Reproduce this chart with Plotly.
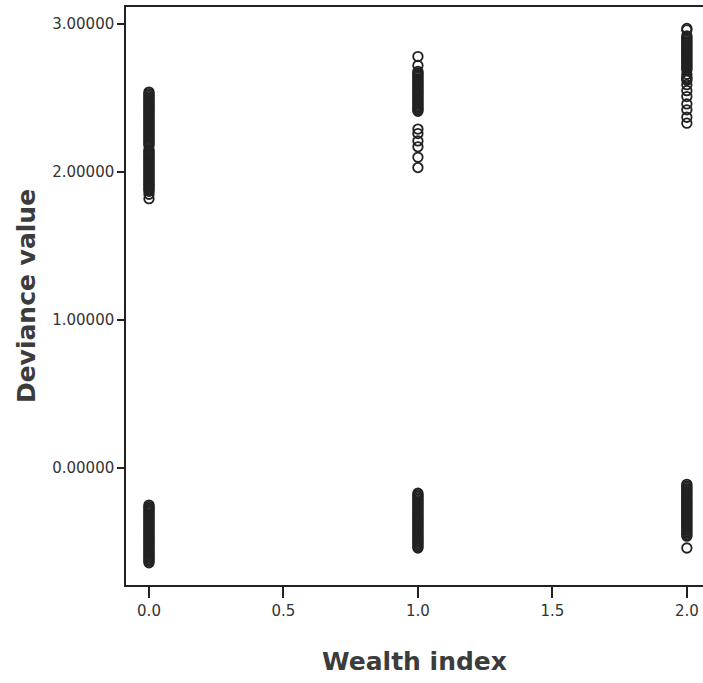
import plotly.graph_objects as go

# Wealth index groups on the x axis
wealth_levels = [0, 1, 2]

# Deviance values per wealth index (upper and lower bands)
dev_w0_upper = [1.82, 1.85, 1.87, 1.88, 1.89, 1.90, 1.91, 1.92, 1.93, 1.94, 1.95, 1.96,
                1.97, 1.98, 1.99, 2.00, 2.01, 2.02, 2.03, 2.04, 2.05, 2.06, 2.07, 2.08,
                2.09, 2.10, 2.11, 2.12, 2.13, 2.14, 2.15, 2.18, 2.19, 2.20, 2.21, 2.22,
                2.23, 2.24, 2.25, 2.26, 2.27, 2.28, 2.29, 2.30, 2.31, 2.32, 2.33, 2.34,
                2.35, 2.36, 2.37, 2.38, 2.39, 2.40, 2.41, 2.42, 2.43, 2.44, 2.45, 2.46,
                2.47, 2.48, 2.49, 2.50, 2.51, 2.52, 2.53, 2.54]
dev_w0_lower = [-0.25, -0.26, -0.27, -0.28, -0.29, -0.30, -0.31, -0.32, -0.33, -0.34,
                -0.35, -0.36, -0.37, -0.38, -0.39, -0.40, -0.41, -0.42, -0.43, -0.44,
                -0.45, -0.46, -0.47, -0.48, -0.49, -0.50, -0.51, -0.52, -0.53, -0.54,
                -0.55, -0.56, -0.57, -0.58, -0.59, -0.60, -0.61, -0.62, -0.63, -0.64]

dev_w1_upper = [2.78, 2.72, 2.68, 2.67, 2.66, 2.65, 2.64, 2.63, 2.62, 2.61, 2.60, 2.59,
                2.58, 2.57, 2.56, 2.55, 2.54, 2.53, 2.52, 2.51, 2.50, 2.49, 2.48, 2.47,
                2.46, 2.45, 2.44, 2.43, 2.42, 2.41, 2.29, 2.26, 2.21, 2.17, 2.10, 2.03]
dev_w1_lower = [-0.17, -0.18, -0.19, -0.20, -0.21, -0.22, -0.23, -0.24, -0.25, -0.26,
                -0.27, -0.28, -0.29, -0.30, -0.31, -0.32, -0.33, -0.34, -0.35, -0.36,
                -0.37, -0.38, -0.39, -0.40, -0.41, -0.42, -0.43, -0.44, -0.45, -0.46,
                -0.47, -0.48, -0.49, -0.50, -0.51, -0.52, -0.53, -0.54]

dev_w2_upper = [2.97, 2.96, 2.92, 2.91, 2.90, 2.89, 2.88, 2.87, 2.86, 2.85, 2.84, 2.83,
                2.82, 2.81, 2.80, 2.79, 2.78, 2.77, 2.76, 2.75, 2.74, 2.73, 2.72, 2.71,
                2.70, 2.69, 2.66, 2.64, 2.63, 2.62, 2.59, 2.55, 2.51, 2.46, 2.42, 2.37,
                2.33]
dev_w2_lower = [-0.11, -0.12, -0.13, -0.14, -0.15, -0.16, -0.17, -0.18, -0.19, -0.20,
                -0.21, -0.22, -0.23, -0.24, -0.25, -0.26, -0.27, -0.28, -0.29, -0.30,
                -0.31, -0.32, -0.33, -0.34, -0.35, -0.36, -0.37, -0.38, -0.39, -0.40,
                -0.41, -0.42, -0.43, -0.44, -0.45, -0.46, -0.54]

x_ticks = [0.0, 0.5, 1.0, 1.5, 2.0]
y_ticks = [0.0, 1.0, 2.0, 3.0]

groups = [
    (wealth_levels[0], dev_w0_upper + dev_w0_lower),
    (wealth_levels[1], dev_w1_upper + dev_w1_lower),
    (wealth_levels[2], dev_w2_upper + dev_w2_lower),
]

xs, ys = [], []
for w, vals in groups:
    xs.extend([w] * len(vals))
    ys.extend(vals)

FONT = "DejaVu Sans, Verdana, sans-serif"
INK = "#222222"

fig = go.Figure(
    go.Scatter(
        x=xs, y=ys, mode="markers",
        marker=dict(symbol="circle-open", size=9.5, color=INK, line=dict(width=1.8, color=INK)),
        showlegend=False,
    )
)

fig.update_layout(
    width=703, height=683,
    margin=dict(l=126, r=0, t=7, b=98),
    paper_bgcolor="white", plot_bgcolor="white",
    font=dict(family=FONT, color="#333333"),
)

fig.update_xaxes(
    range=[-0.0855, 2.06],
    tickvals=x_ticks, tickformat=".1f",
    showline=True, linecolor=INK, linewidth=1.5, mirror=True,
    ticks="outside", ticklen=11, tickwidth=2, tickcolor=INK,
    showgrid=False, zeroline=False,
    tickfont=dict(size=15, color="#333333"),
    title=dict(text="<b>Wealth index</b>", font=dict(size=25, color="#3c3c3c"), standoff=34),
)

fig.update_yaxes(
    range=[-0.79, 3.115],
    tickvals=y_ticks, tickformat=".5f",
    showline=True, linecolor=INK, linewidth=1.5, mirror=False,
    ticks="outside", ticklen=7, tickwidth=2, tickcolor=INK,
    showgrid=False, zeroline=False,
    tickfont=dict(size=15, color="#333333"),
    title=dict(text="<b>Deviance value</b>", font=dict(size=25, color="#3c3c3c"), standoff=9),
)

fig.write_html("out.html")
